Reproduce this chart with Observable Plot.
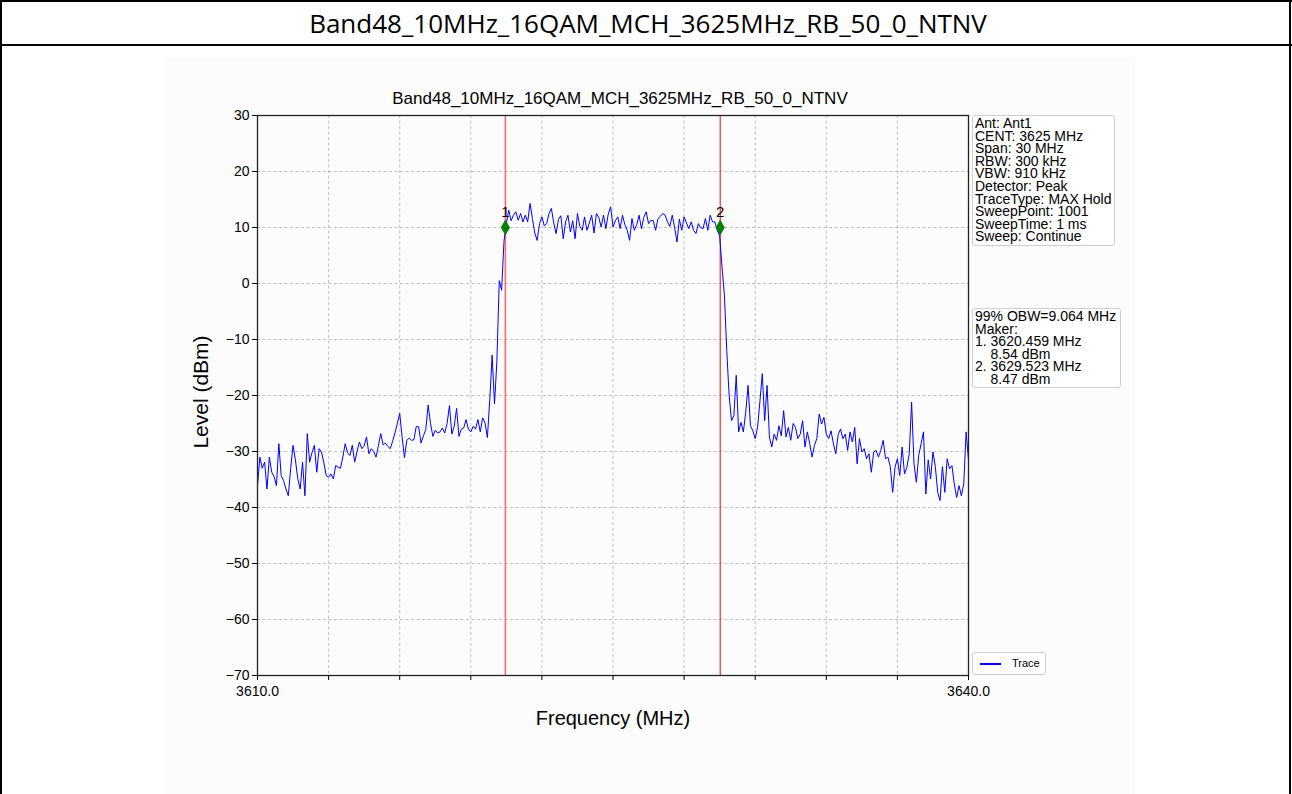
<!DOCTYPE html>
<html>
<head>
<meta charset="utf-8">
<script src="https://cdn.jsdelivr.net/npm/d3@7"></script>
<script src="https://cdn.jsdelivr.net/npm/@observablehq/plot@0.6"></script>
<style>
html,body{margin:0;padding:0;background:#fff;}
#page{position:relative;width:1292px;height:794px;overflow:hidden;font-family:"Liberation Sans",Arial,sans-serif;color:#000;}
.abs{position:absolute;}
#hdr{left:0;top:0;width:1296px;height:46px;text-align:center;font-family:"Open Sans","Noto Sans",sans-serif;font-size:26px;line-height:46px;}
#fig{left:165px;top:57px;width:970px;height:737px;background:#fcfcfc;}
.box{border:1px solid #cfcfcf;border-radius:3px;background:#fff;font-size:14px;line-height:12.6px;padding:1px 2px;white-space:pre;box-sizing:border-box;}
</style>
</head>
<body>
<div id="page">
  <div class="abs" style="left:0;top:0;width:2px;height:794px;background:#000"></div>
  <div class="abs" style="left:1289px;top:0;width:2px;height:794px;background:#000"></div>
  <div class="abs" style="left:0;top:0;width:1292px;height:2px;background:#000"></div>
  <div class="abs" style="left:0;top:44px;width:1292px;height:2px;background:#000"></div>
  <div id="hdr" class="abs"></div>
  <div id="fig" class="abs"></div>
  <div id="ptitle" class="abs" style="left:320px;top:89px;width:600px;text-align:center;font-size:17px;"></div>
  <div id="ylab" class="abs" style="left:101px;top:380px;width:200px;text-align:center;font-size:21px;transform:rotate(-90deg);"></div>
  <div id="xlab" class="abs" style="left:463px;top:707px;width:300px;text-align:center;font-size:20px;"></div>
  <div id="info" class="abs box" style="left:972px;top:115px;width:143px;height:131px;"></div>
  <div id="obw" class="abs box" style="left:972px;top:308px;width:149px;height:80px;"></div>
  <div class="abs box" style="left:972px;top:652px;width:74px;height:23px;">
    <div class="abs" style="left:7px;top:10px;width:21px;height:1.5px;background:#0000ff"></div>
    <div class="abs" style="left:39px;top:4px;font-size:11px;line-height:13px;">Trace</div>
  </div>
</div>
<script>
// ---- data ----
const chartTitle = "Band48_10MHz_16QAM_MCH_3625MHz_RB_50_0_NTNV";
const xLabel = "Frequency (MHz)";
const yLabel = "Level (dBm)";
const freqStart = 3610, freqStop = 3640;
const xTicks = [3610, 3613, 3616, 3619, 3622, 3625, 3628, 3631, 3634, 3637, 3640];
const yTicks = [30, 20, 10, 0, -10, -20, -30, -40, -50, -60, -70];
const markerFreqs = [3620.459, 3629.523];
const markerLevels = [10, 10];
const markerLabels = ["1", "2"];
const infoLines = ["Ant: Ant1","CENT: 3625 MHz","Span: 30 MHz","RBW: 300 kHz","VBW: 910 kHz","Detector: Peak","TraceType: MAX Hold","SweepPoint: 1001","SweepTime: 1 ms","Sweep: Continue"];
const obwLines = ["99% OBW=9.064 MHz","Maker:","1. 3620.459 MHz","    8.54 dBm","2. 3629.523 MHz","    8.47 dBm"];
// trace levels (dBm), evenly spaced across the span
const traceLevels = [
 -36.1,-31,-33,-31.9,-36.7,-31,-33.7,-34.5,-36.1,-28.6,
 -34.3,-35.2,-36.7,-37.9,-33,-28.9,-31.5,-34.9,-36.7,-31.9,
 -37.9,-26.8,-31.9,-30.2,-28.9,-33.7,-29.5,-30.1,-32,-34.3,
 -34.6,-34,-34.9,-32.5,-32.8,-33,-31,-28.6,-30.2,-30.7,
 -28.9,-31.9,-30,-28.3,-29.5,-29,-27.4,-30.4,-29.5,-30,
 -31,-29,-26.8,-28.8,-28.5,-29.1,-29.5,-28.2,-26.7,-25,
 -23.2,-27.3,-31.1,-28,-27.6,-28,-27.9,-25.5,-25.6,-28.5,
 -27.2,-26.1,-21.7,-25,-27.3,-26.2,-26.7,-26.5,-25.8,-26.7,
 -25,-21.8,-26.9,-25.5,-22.3,-27.3,-26,-25.8,-24.3,-26,
 -26.5,-25.5,-26,-24.3,-26.5,-24,-24.9,-27.5,-20.8,-12.8,
 -21.5,-14,0.5,-1.2,7.5,
 10.7,13.1,11.2,12.2,12.8,11.3,12.5,11,12.2,11,
 14.3,11.6,9,7.7,10.7,11.9,10.3,10.7,12.5,13.4,
 10.8,8.9,11.5,12.1,8,11,12.2,9.2,11.2,8,
 12.5,10.2,9.5,11.9,9.5,10.8,12.2,9,12.5,11.8,
 10.1,12.2,9.8,12.4,13.7,10.1,11.2,11.9,9.8,12.2,
 10.5,9.5,7.7,11.6,9.5,10.5,12.2,9.8,11.8,12.8,
 10.7,11.3,11.2,9.5,11.6,12,12.5,12.2,11,10.2,
 12.2,10,7.4,11.5,9.5,11.9,10.8,9.8,11,9.5,
 8.9,10.7,10,9.8,11.6,9.5,12.2,11,11,9.5,
 8.5,3,-2,-12,-20,-24.5,
 -23.6,-16.4,-26.5,-24.8,-26.5,-23,-18.2,-25.4,-26.3,-27.7,
 -25.7,-21,-16.1,-24.5,-18.2,-27.4,-29.2,-26.9,-28,-25.4,
 -27.2,-22.7,-27.4,-25.7,-28,-25,-25.7,-27.7,-26.9,-24.5,
 -29.2,-26.5,-28.6,-31,-28.9,-27.7,-23.3,-25.1,-23.9,-26.9,
 -27.7,-26.3,-28.6,-30.4,-27,-26,-27.7,-26.9,-29.8,-26.5,
 -28.3,-25.7,-32.2,-27.7,-30.1,-29.5,-31.3,-30.4,-33.7,-30.1,
 -29.8,-31,-29.8,-28,-31.3,-31,-32.7,-37.3,-32.8,-31.3,
 -34.3,-29.2,-34,-32.8,-30.4,-21.2,-32.2,-35.5,-30.7,-28.6,
 -26.5,-37.6,-31.5,-34.9,-30.1,-32.7,-37.3,-38.75,-32.7,-37.3,
 -31.3,-33.1,-32.5,-35.8,-38.2,-36.1,-37.9,-35.8,-26.5,-31.5
];
// ---- build ----
const n = traceLevels.length;
const trace = traceLevels.map((v, i) => ({f: freqStart + i * (freqStop - freqStart) / (n - 1), v}));
const markers = markerFreqs.map((f, i) => ({f, v: markerLevels[i], label: markerLabels[i]}));
const fmt = d => d < 0 ? "\u2212" + Math.abs(d) : String(d);

document.getElementById("hdr").textContent = chartTitle;
document.getElementById("ptitle").textContent = chartTitle;
document.getElementById("xlab").textContent = xLabel;
document.getElementById("ylab").textContent = yLabel;
document.getElementById("info").textContent = infoLines.join("\n");
document.getElementById("obw").textContent = obwLines.join("\n");

const grid = {stroke: "#b0b0b0", strokeOpacity: 1, strokeWidth: 0.8, strokeDasharray: "3,2.5"};
const chart = Plot.plot({
  width: 970, height: 737,
  marginLeft: 92, marginRight: 167, marginTop: 58, marginBottom: 119,
  style: {background: "transparent", fontFamily: "Liberation Sans, Arial, sans-serif", color: "#000"},
  x: {domain: [freqStart, freqStop]},
  y: {domain: [-70, 30]},
  marks: [
    Plot.gridY(yTicks, grid),
    Plot.gridX(xTicks, grid),
    Plot.ruleX([markerFreqs[0]], {stroke: "#ff6a6a", strokeWidth: 1.6}),
    Plot.ruleX([markerFreqs[1]], {stroke: "#ff0000", strokeWidth: 1}),
    Plot.line(trace, {x: "f", y: "v", stroke: "#0000ff", strokeWidth: 1, clip: true}),
    Plot.dot(markers, {x: "f", y: "v", symbol: "diamond", fill: "#008000", r: 4.8}),
    Plot.text(markers, {x: "f", y: "v", text: "label", dy: -15, fontSize: 15}),
    Plot.frame({stroke: "#222", strokeWidth: 1.3}),
    Plot.axisY(yTicks, {tickSize: 5, tickPadding: 3, tickFormat: fmt, label: null, fontSize: 14}),
    Plot.axisX(xTicks, {tickSize: 5, tickPadding: 6, tickFormat: d => (d === freqStart || d === freqStop) ? d.toFixed(1) : "", label: null, fontSize: 14})
  ]
});
document.getElementById("fig").appendChild(chart);
</script>
</body>
</html>
